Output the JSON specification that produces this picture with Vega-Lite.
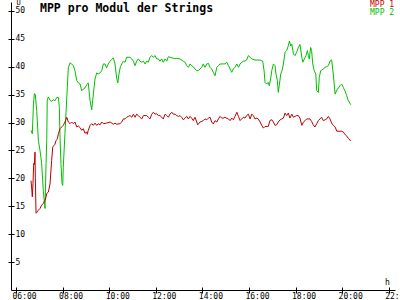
{
"$schema": "https://vega.github.io/schema/vega-lite/v6.json",
"width": 384, "height": 288,
"autosize": "none",
"padding": {"left": 11, "top": 2, "right": 5, "bottom": 10},
"background": "white",
"config": {"view": {"stroke": null}, "font": "DejaVu Sans Mono"},
"title": {"text": "MPP pro Modul der Strings", "anchor": "start", "frame": "group", "offset": -16, "dx": 29, "font": "DejaVu Sans Mono", "fontSize": 11.5, "fontWeight": "bold", "color": "black"},
"data": {"values": [
{"t":6.644,"v":28.6,"s":"MPP 2"},{"t":6.70,"v":28.0,"s":"MPP 2"},{"t":6.75,"v":33.4,"s":"MPP 2"},{"t":6.79,"v":35.2,"s":"MPP 2"},{"t":6.83,"v":35.0,"s":"MPP 2"},{"t":6.89,"v":32.0,"s":"MPP 2"},{"t":6.96,"v":26.8,"s":"MPP 2"},{"t":7.03,"v":25.0,"s":"MPP 2"},{"t":7.10,"v":22.7,"s":"MPP 2"},{"t":7.17,"v":17.9,"s":"MPP 2"},{"t":7.245,"v":14.6,"s":"MPP 2"},{"t":7.29,"v":22.7,"s":"MPP 2"},{"t":7.32,"v":26.8,"s":"MPP 2"},{"t":7.34,"v":34.0,"s":"MPP 2"},{"t":7.39,"v":34.6,"s":"MPP 2"},{"t":7.46,"v":34.0,"s":"MPP 2"},{"t":7.53,"v":33.8,"s":"MPP 2"},{"t":7.60,"v":34.1,"s":"MPP 2"},{"t":7.67,"v":33.9,"s":"MPP 2"},{"t":7.75,"v":34.5,"s":"MPP 2"},{"t":7.82,"v":34.5,"s":"MPP 2"},{"t":7.86,"v":32.7,"s":"MPP 2"},{"t":7.89,"v":27.3,"s":"MPP 2"},{"t":7.93,"v":22.7,"s":"MPP 2"},{"t":7.975,"v":19.1,"s":"MPP 2"},{"t":8.005,"v":18.75,"s":"MPP 2"},{"t":8.03,"v":22.0,"s":"MPP 2"},{"t":8.10,"v":28.0,"s":"MPP 2"},{"t":8.18,"v":34.5,"s":"MPP 2"},{"t":8.245,"v":39.8,"s":"MPP 2"},{"t":8.32,"v":40.7,"s":"MPP 2"},{"t":8.39,"v":40.5,"s":"MPP 2"},{"t":8.46,"v":40.2,"s":"MPP 2"},{"t":8.53,"v":39.3,"s":"MPP 2"},{"t":8.61,"v":37.5,"s":"MPP 2"},{"t":8.675,"v":37.1,"s":"MPP 2"},{"t":8.75,"v":36.9,"s":"MPP 2"},{"t":8.82,"v":35.7,"s":"MPP 2"},{"t":8.89,"v":36.0,"s":"MPP 2"},{"t":8.96,"v":36.2,"s":"MPP 2"},{"t":9.04,"v":36.8,"s":"MPP 2"},{"t":9.10,"v":37.1,"s":"MPP 2"},{"t":9.18,"v":33.9,"s":"MPP 2"},{"t":9.25,"v":32.3,"s":"MPP 2"},{"t":9.29,"v":33.9,"s":"MPP 2"},{"t":9.35,"v":36.2,"s":"MPP 2"},{"t":9.39,"v":37.8,"s":"MPP 2"},{"t":9.465,"v":38.9,"s":"MPP 2"},{"t":9.53,"v":38.7,"s":"MPP 2"},{"t":9.61,"v":38.9,"s":"MPP 2"},{"t":9.68,"v":39.3,"s":"MPP 2"},{"t":9.75,"v":40.5,"s":"MPP 2"},{"t":9.82,"v":40.5,"s":"MPP 2"},{"t":9.89,"v":39.8,"s":"MPP 2"},{"t":9.96,"v":40.5,"s":"MPP 2"},{"t":10.04,"v":41.0,"s":"MPP 2"},{"t":10.11,"v":41.3,"s":"MPP 2"},{"t":10.18,"v":41.6,"s":"MPP 2"},{"t":10.25,"v":40.5,"s":"MPP 2"},{"t":10.32,"v":38.0,"s":"MPP 2"},{"t":10.37,"v":37.1,"s":"MPP 2"},{"t":10.42,"v":38.7,"s":"MPP 2"},{"t":10.48,"v":40.0,"s":"MPP 2"},{"t":10.54,"v":40.5,"s":"MPP 2"},{"t":10.61,"v":41.0,"s":"MPP 2"},{"t":10.68,"v":40.8,"s":"MPP 2"},{"t":10.75,"v":41.7,"s":"MPP 2"},{"t":10.895,"v":41.7,"s":"MPP 2"},{"t":10.97,"v":41.4,"s":"MPP 2"},{"t":11.04,"v":41.0,"s":"MPP 2"},{"t":11.11,"v":40.2,"s":"MPP 2"},{"t":11.18,"v":41.0,"s":"MPP 2"},{"t":11.25,"v":41.4,"s":"MPP 2"},{"t":11.32,"v":41.0,"s":"MPP 2"},{"t":11.40,"v":40.8,"s":"MPP 2"},{"t":11.47,"v":41.0,"s":"MPP 2"},{"t":11.54,"v":40.5,"s":"MPP 2"},{"t":11.61,"v":41.0,"s":"MPP 2"},{"t":11.68,"v":40.8,"s":"MPP 2"},{"t":11.75,"v":41.7,"s":"MPP 2"},{"t":11.83,"v":42.0,"s":"MPP 2"},{"t":11.895,"v":41.7,"s":"MPP 2"},{"t":11.97,"v":42.0,"s":"MPP 2"},{"t":12.04,"v":41.4,"s":"MPP 2"},{"t":12.11,"v":41.4,"s":"MPP 2"},{"t":12.18,"v":41.0,"s":"MPP 2"},{"t":12.255,"v":41.4,"s":"MPP 2"},{"t":12.32,"v":40.8,"s":"MPP 2"},{"t":12.40,"v":41.4,"s":"MPP 2"},{"t":12.47,"v":41.0,"s":"MPP 2"},{"t":12.54,"v":41.8,"s":"MPP 2"},{"t":12.61,"v":41.7,"s":"MPP 2"},{"t":12.75,"v":41.5,"s":"MPP 2"},{"t":12.90,"v":41.5,"s":"MPP 2"},{"t":13.04,"v":41.4,"s":"MPP 2"},{"t":13.18,"v":41.0,"s":"MPP 2"},{"t":13.26,"v":40.8,"s":"MPP 2"},{"t":13.33,"v":40.2,"s":"MPP 2"},{"t":13.40,"v":39.9,"s":"MPP 2"},{"t":13.47,"v":40.5,"s":"MPP 2"},{"t":13.54,"v":40.2,"s":"MPP 2"},{"t":13.61,"v":40.0,"s":"MPP 2"},{"t":13.685,"v":39.6,"s":"MPP 2"},{"t":13.76,"v":39.3,"s":"MPP 2"},{"t":13.83,"v":39.3,"s":"MPP 2"},{"t":13.90,"v":39.6,"s":"MPP 2"},{"t":13.97,"v":39.9,"s":"MPP 2"},{"t":14.04,"v":40.5,"s":"MPP 2"},{"t":14.11,"v":39.9,"s":"MPP 2"},{"t":14.19,"v":40.5,"s":"MPP 2"},{"t":14.26,"v":40.6,"s":"MPP 2"},{"t":14.33,"v":39.9,"s":"MPP 2"},{"t":14.40,"v":39.6,"s":"MPP 2"},{"t":14.47,"v":39.0,"s":"MPP 2"},{"t":14.545,"v":38.4,"s":"MPP 2"},{"t":14.62,"v":39.9,"s":"MPP 2"},{"t":14.69,"v":40.2,"s":"MPP 2"},{"t":14.76,"v":40.5,"s":"MPP 2"},{"t":14.90,"v":40.5,"s":"MPP 2"},{"t":14.97,"v":40.5,"s":"MPP 2"},{"t":15.05,"v":40.8,"s":"MPP 2"},{"t":15.12,"v":40.2,"s":"MPP 2"},{"t":15.19,"v":39.6,"s":"MPP 2"},{"t":15.26,"v":39.0,"s":"MPP 2"},{"t":15.33,"v":39.6,"s":"MPP 2"},{"t":15.40,"v":39.9,"s":"MPP 2"},{"t":15.48,"v":40.5,"s":"MPP 2"},{"t":15.55,"v":39.9,"s":"MPP 2"},{"t":15.62,"v":40.5,"s":"MPP 2"},{"t":15.69,"v":40.8,"s":"MPP 2"},{"t":15.76,"v":41.0,"s":"MPP 2"},{"t":15.83,"v":41.0,"s":"MPP 2"},{"t":15.90,"v":41.2,"s":"MPP 2"},{"t":15.975,"v":42.0,"s":"MPP 2"},{"t":16.05,"v":41.7,"s":"MPP 2"},{"t":16.12,"v":41.4,"s":"MPP 2"},{"t":16.26,"v":41.2,"s":"MPP 2"},{"t":16.48,"v":41.2,"s":"MPP 2"},{"t":16.59,"v":41.0,"s":"MPP 2"},{"t":16.65,"v":39.3,"s":"MPP 2"},{"t":16.69,"v":37.2,"s":"MPP 2"},{"t":16.76,"v":36.9,"s":"MPP 2"},{"t":16.83,"v":37.2,"s":"MPP 2"},{"t":16.875,"v":36.6,"s":"MPP 2"},{"t":16.94,"v":38.1,"s":"MPP 2"},{"t":16.98,"v":39.3,"s":"MPP 2"},{"t":17.05,"v":40.5,"s":"MPP 2"},{"t":17.12,"v":40.2,"s":"MPP 2"},{"t":17.16,"v":38.7,"s":"MPP 2"},{"t":17.22,"v":37.5,"s":"MPP 2"},{"t":17.26,"v":35.4,"s":"MPP 2"},{"t":17.30,"v":36.6,"s":"MPP 2"},{"t":17.365,"v":38.7,"s":"MPP 2"},{"t":17.42,"v":39.3,"s":"MPP 2"},{"t":17.48,"v":40.5,"s":"MPP 2"},{"t":17.52,"v":41.7,"s":"MPP 2"},{"t":17.55,"v":42.6,"s":"MPP 2"},{"t":17.62,"v":42.9,"s":"MPP 2"},{"t":17.69,"v":43.75,"s":"MPP 2"},{"t":17.735,"v":44.6,"s":"MPP 2"},{"t":17.795,"v":43.75,"s":"MPP 2"},{"t":17.84,"v":44.05,"s":"MPP 2"},{"t":17.91,"v":42.3,"s":"MPP 2"},{"t":17.98,"v":42.0,"s":"MPP 2"},{"t":18.05,"v":42.6,"s":"MPP 2"},{"t":18.12,"v":43.45,"s":"MPP 2"},{"t":18.19,"v":44.0,"s":"MPP 2"},{"t":18.27,"v":41.7,"s":"MPP 2"},{"t":18.31,"v":40.8,"s":"MPP 2"},{"t":18.38,"v":41.4,"s":"MPP 2"},{"t":18.45,"v":42.0,"s":"MPP 2"},{"t":18.51,"v":42.9,"s":"MPP 2"},{"t":18.55,"v":42.0,"s":"MPP 2"},{"t":18.59,"v":41.4,"s":"MPP 2"},{"t":18.65,"v":43.45,"s":"MPP 2"},{"t":18.69,"v":42.9,"s":"MPP 2"},{"t":18.74,"v":40.5,"s":"MPP 2"},{"t":18.80,"v":39.3,"s":"MPP 2"},{"t":18.87,"v":38.7,"s":"MPP 2"},{"t":18.91,"v":35.7,"s":"MPP 2"},{"t":18.98,"v":35.4,"s":"MPP 2"},{"t":19.02,"v":38.1,"s":"MPP 2"},{"t":19.08,"v":39.3,"s":"MPP 2"},{"t":19.12,"v":39.4,"s":"MPP 2"},{"t":19.19,"v":39.6,"s":"MPP 2"},{"t":19.27,"v":39.9,"s":"MPP 2"},{"t":19.34,"v":40.0,"s":"MPP 2"},{"t":19.41,"v":40.2,"s":"MPP 2"},{"t":19.48,"v":41.0,"s":"MPP 2"},{"t":19.55,"v":41.2,"s":"MPP 2"},{"t":19.62,"v":38.7,"s":"MPP 2"},{"t":19.70,"v":35.1,"s":"MPP 2"},{"t":19.77,"v":35.8,"s":"MPP 2"},{"t":19.84,"v":36.2,"s":"MPP 2"},{"t":19.91,"v":36.6,"s":"MPP 2"},{"t":19.98,"v":36.9,"s":"MPP 2"},{"t":20.05,"v":36.3,"s":"MPP 2"},{"t":20.12,"v":35.7,"s":"MPP 2"},{"t":20.19,"v":34.9,"s":"MPP 2"},{"t":20.26,"v":34.0,"s":"MPP 2"},{"t":20.37,"v":33.2,"s":"MPP 2"},
{"t":6.644,"v":19.6,"s":"MPP 1"},{"t":6.67,"v":18.45,"s":"MPP 1"},{"t":6.70,"v":16.7,"s":"MPP 1"},{"t":6.73,"v":19.1,"s":"MPP 1"},{"t":6.76,"v":22.7,"s":"MPP 1"},{"t":6.79,"v":22.5,"s":"MPP 1"},{"t":6.815,"v":24.7,"s":"MPP 1"},{"t":6.83,"v":20.2,"s":"MPP 1"},{"t":6.86,"v":13.75,"s":"MPP 1"},{"t":6.89,"v":13.9,"s":"MPP 1"},{"t":6.96,"v":14.3,"s":"MPP 1"},{"t":7.03,"v":14.6,"s":"MPP 1"},{"t":7.10,"v":15.2,"s":"MPP 1"},{"t":7.17,"v":15.5,"s":"MPP 1"},{"t":7.245,"v":16.1,"s":"MPP 1"},{"t":7.29,"v":16.7,"s":"MPP 1"},{"t":7.32,"v":17.3,"s":"MPP 1"},{"t":7.39,"v":17.55,"s":"MPP 1"},{"t":7.46,"v":19.0,"s":"MPP 1"},{"t":7.53,"v":23.2,"s":"MPP 1"},{"t":7.575,"v":25.6,"s":"MPP 1"},{"t":7.63,"v":25.9,"s":"MPP 1"},{"t":7.67,"v":26.1,"s":"MPP 1"},{"t":7.72,"v":26.8,"s":"MPP 1"},{"t":7.77,"v":27.0,"s":"MPP 1"},{"t":7.82,"v":28.0,"s":"MPP 1"},{"t":7.89,"v":28.9,"s":"MPP 1"},{"t":7.96,"v":29.2,"s":"MPP 1"},{"t":8.03,"v":29.5,"s":"MPP 1"},{"t":8.10,"v":30.1,"s":"MPP 1"},{"t":8.18,"v":30.95,"s":"MPP 1"},{"t":8.245,"v":30.1,"s":"MPP 1"},{"t":8.32,"v":29.8,"s":"MPP 1"},{"t":8.39,"v":30.1,"s":"MPP 1"},{"t":8.46,"v":29.8,"s":"MPP 1"},{"t":8.53,"v":30.1,"s":"MPP 1"},{"t":8.61,"v":29.2,"s":"MPP 1"},{"t":8.675,"v":29.4,"s":"MPP 1"},{"t":8.75,"v":29.1,"s":"MPP 1"},{"t":8.82,"v":28.6,"s":"MPP 1"},{"t":8.89,"v":28.9,"s":"MPP 1"},{"t":8.96,"v":28.1,"s":"MPP 1"},{"t":9.04,"v":28.3,"s":"MPP 1"},{"t":9.06,"v":27.9,"s":"MPP 1"},{"t":9.10,"v":28.6,"s":"MPP 1"},{"t":9.18,"v":29.5,"s":"MPP 1"},{"t":9.25,"v":29.8,"s":"MPP 1"},{"t":9.32,"v":29.5,"s":"MPP 1"},{"t":9.39,"v":29.9,"s":"MPP 1"},{"t":9.465,"v":29.5,"s":"MPP 1"},{"t":9.53,"v":29.8,"s":"MPP 1"},{"t":9.61,"v":29.6,"s":"MPP 1"},{"t":9.68,"v":30.1,"s":"MPP 1"},{"t":9.75,"v":29.8,"s":"MPP 1"},{"t":9.89,"v":29.9,"s":"MPP 1"},{"t":10.04,"v":30.1,"s":"MPP 1"},{"t":10.18,"v":29.7,"s":"MPP 1"},{"t":10.25,"v":29.9,"s":"MPP 1"},{"t":10.32,"v":29.7,"s":"MPP 1"},{"t":10.465,"v":29.8,"s":"MPP 1"},{"t":10.54,"v":30.1,"s":"MPP 1"},{"t":10.61,"v":30.65,"s":"MPP 1"},{"t":10.68,"v":30.65,"s":"MPP 1"},{"t":10.75,"v":30.95,"s":"MPP 1"},{"t":10.82,"v":31.1,"s":"MPP 1"},{"t":10.895,"v":31.25,"s":"MPP 1"},{"t":10.97,"v":30.95,"s":"MPP 1"},{"t":11.04,"v":31.5,"s":"MPP 1"},{"t":11.11,"v":30.95,"s":"MPP 1"},{"t":11.18,"v":31.5,"s":"MPP 1"},{"t":11.25,"v":31.25,"s":"MPP 1"},{"t":11.32,"v":30.95,"s":"MPP 1"},{"t":11.40,"v":30.65,"s":"MPP 1"},{"t":11.47,"v":31.25,"s":"MPP 1"},{"t":11.61,"v":31.25,"s":"MPP 1"},{"t":11.68,"v":30.95,"s":"MPP 1"},{"t":11.75,"v":30.65,"s":"MPP 1"},{"t":11.83,"v":31.5,"s":"MPP 1"},{"t":11.895,"v":31.85,"s":"MPP 1"},{"t":11.97,"v":31.5,"s":"MPP 1"},{"t":12.04,"v":31.6,"s":"MPP 1"},{"t":12.11,"v":31.25,"s":"MPP 1"},{"t":12.18,"v":31.25,"s":"MPP 1"},{"t":12.255,"v":30.95,"s":"MPP 1"},{"t":12.32,"v":30.65,"s":"MPP 1"},{"t":12.40,"v":31.5,"s":"MPP 1"},{"t":12.47,"v":31.25,"s":"MPP 1"},{"t":12.54,"v":30.95,"s":"MPP 1"},{"t":12.61,"v":31.5,"s":"MPP 1"},{"t":12.69,"v":31.85,"s":"MPP 1"},{"t":12.75,"v":31.5,"s":"MPP 1"},{"t":12.83,"v":31.5,"s":"MPP 1"},{"t":12.90,"v":31.25,"s":"MPP 1"},{"t":12.97,"v":31.1,"s":"MPP 1"},{"t":13.04,"v":31.25,"s":"MPP 1"},{"t":13.11,"v":30.95,"s":"MPP 1"},{"t":13.18,"v":30.5,"s":"MPP 1"},{"t":13.26,"v":30.8,"s":"MPP 1"},{"t":13.33,"v":31.1,"s":"MPP 1"},{"t":13.40,"v":30.65,"s":"MPP 1"},{"t":13.47,"v":31.1,"s":"MPP 1"},{"t":13.54,"v":30.8,"s":"MPP 1"},{"t":13.61,"v":30.35,"s":"MPP 1"},{"t":13.685,"v":30.95,"s":"MPP 1"},{"t":13.76,"v":30.1,"s":"MPP 1"},{"t":13.80,"v":29.6,"s":"MPP 1"},{"t":13.90,"v":30.1,"s":"MPP 1"},{"t":13.97,"v":30.2,"s":"MPP 1"},{"t":14.04,"v":30.35,"s":"MPP 1"},{"t":14.11,"v":30.65,"s":"MPP 1"},{"t":14.19,"v":30.5,"s":"MPP 1"},{"t":14.26,"v":30.8,"s":"MPP 1"},{"t":14.33,"v":30.95,"s":"MPP 1"},{"t":14.40,"v":30.1,"s":"MPP 1"},{"t":14.47,"v":29.75,"s":"MPP 1"},{"t":14.545,"v":30.35,"s":"MPP 1"},{"t":14.62,"v":30.1,"s":"MPP 1"},{"t":14.69,"v":30.65,"s":"MPP 1"},{"t":14.76,"v":31.1,"s":"MPP 1"},{"t":14.83,"v":30.8,"s":"MPP 1"},{"t":14.90,"v":30.8,"s":"MPP 1"},{"t":14.97,"v":30.95,"s":"MPP 1"},{"t":15.05,"v":30.75,"s":"MPP 1"},{"t":15.12,"v":30.65,"s":"MPP 1"},{"t":15.19,"v":30.35,"s":"MPP 1"},{"t":15.26,"v":30.8,"s":"MPP 1"},{"t":15.33,"v":30.5,"s":"MPP 1"},{"t":15.40,"v":31.1,"s":"MPP 1"},{"t":15.48,"v":31.85,"s":"MPP 1"},{"t":15.55,"v":31.1,"s":"MPP 1"},{"t":15.62,"v":30.35,"s":"MPP 1"},{"t":15.69,"v":30.65,"s":"MPP 1"},{"t":15.76,"v":30.95,"s":"MPP 1"},{"t":15.83,"v":30.8,"s":"MPP 1"},{"t":15.90,"v":31.25,"s":"MPP 1"},{"t":15.975,"v":31.5,"s":"MPP 1"},{"t":16.05,"v":30.65,"s":"MPP 1"},{"t":16.12,"v":31.5,"s":"MPP 1"},{"t":16.19,"v":31.25,"s":"MPP 1"},{"t":16.26,"v":30.65,"s":"MPP 1"},{"t":16.34,"v":30.8,"s":"MPP 1"},{"t":16.40,"v":30.65,"s":"MPP 1"},{"t":16.48,"v":30.1,"s":"MPP 1"},{"t":16.55,"v":29.5,"s":"MPP 1"},{"t":16.62,"v":29.0,"s":"MPP 1"},{"t":16.69,"v":29.3,"s":"MPP 1"},{"t":16.83,"v":29.3,"s":"MPP 1"},{"t":16.90,"v":30.35,"s":"MPP 1"},{"t":16.98,"v":30.5,"s":"MPP 1"},{"t":17.05,"v":30.1,"s":"MPP 1"},{"t":17.12,"v":29.5,"s":"MPP 1"},{"t":17.19,"v":29.6,"s":"MPP 1"},{"t":17.26,"v":30.1,"s":"MPP 1"},{"t":17.34,"v":30.5,"s":"MPP 1"},{"t":17.41,"v":30.65,"s":"MPP 1"},{"t":17.48,"v":30.8,"s":"MPP 1"},{"t":17.55,"v":31.7,"s":"MPP 1"},{"t":17.62,"v":31.25,"s":"MPP 1"},{"t":17.69,"v":31.7,"s":"MPP 1"},{"t":17.76,"v":30.8,"s":"MPP 1"},{"t":17.84,"v":31.5,"s":"MPP 1"},{"t":17.91,"v":30.95,"s":"MPP 1"},{"t":17.98,"v":31.1,"s":"MPP 1"},{"t":18.05,"v":31.25,"s":"MPP 1"},{"t":18.12,"v":31.25,"s":"MPP 1"},{"t":18.19,"v":30.8,"s":"MPP 1"},{"t":18.27,"v":29.5,"s":"MPP 1"},{"t":18.34,"v":30.1,"s":"MPP 1"},{"t":18.41,"v":30.35,"s":"MPP 1"},{"t":18.48,"v":30.65,"s":"MPP 1"},{"t":18.62,"v":30.65,"s":"MPP 1"},{"t":18.69,"v":30.2,"s":"MPP 1"},{"t":18.76,"v":29.6,"s":"MPP 1"},{"t":18.83,"v":29.2,"s":"MPP 1"},{"t":18.91,"v":29.8,"s":"MPP 1"},{"t":18.98,"v":30.35,"s":"MPP 1"},{"t":19.05,"v":30.65,"s":"MPP 1"},{"t":19.12,"v":30.95,"s":"MPP 1"},{"t":19.19,"v":30.35,"s":"MPP 1"},{"t":19.27,"v":30.5,"s":"MPP 1"},{"t":19.34,"v":30.65,"s":"MPP 1"},{"t":19.41,"v":31.1,"s":"MPP 1"},{"t":19.48,"v":30.65,"s":"MPP 1"},{"t":19.55,"v":29.9,"s":"MPP 1"},{"t":19.62,"v":29.5,"s":"MPP 1"},{"t":19.70,"v":29.2,"s":"MPP 1"},{"t":19.77,"v":28.45,"s":"MPP 1"},{"t":19.98,"v":28.45,"s":"MPP 1"},{"t":20.05,"v":28.3,"s":"MPP 1"},{"t":20.12,"v":27.9,"s":"MPP 1"},{"t":20.19,"v":27.6,"s":"MPP 1"},{"t":20.26,"v":27.2,"s":"MPP 1"},{"t":20.37,"v":26.7,"s":"MPP 1"}
]},
"layer": [
{"mark": {"type": "line", "strokeWidth": 1},
 "encoding": {
  "x": {"field": "t", "type": "quantitative", "scale": {"domain": [5.785, 22.27], "nice": false, "zero": false},
        "axis": {"orient": "bottom", "values": [6,8,10,12,14,16,18,20,22], "labelExpr": "(datum.value<10?'0':'')+datum.value+':00'", "tickSize": 3, "tickColor": "black", "domainColor": "black", "labelFont": "DejaVu Sans Mono", "labelFontSize": 8, "labelColor": "black", "labelAlign": "left", "labelOffset": -4, "labelPadding": -1, "labelBaseline": "top", "labelFlush": false, "labelOverlap": false, "grid": false, "title": "h", "titleFont": "DejaVu Sans Mono", "titleFontSize": 8, "titleFontWeight": "normal", "titleColor": "black", "titleX": 376, "titleY": -6, "titleBaseline": "alphabetic", "titleAlign": "center"}},
  "y": {"field": "v", "type": "quantitative", "scale": {"domain": [0, 51.6], "nice": false},
        "axis": {"orient": "left", "values": [5,10,15,20,25,30,35,40,45,50], "tickSize": 3, "tickColor": "black", "domainColor": "black", "labelFont": "DejaVu Sans Mono", "labelFontSize": 8, "labelColor": "black", "labelAlign": "left", "labelPadding": -7, "labelBaseline": "middle", "labelFlush": false, "labelOverlap": false, "grid": false, "title": "U", "titleFont": "DejaVu Sans Mono", "titleFontSize": 7, "titleFontWeight": "normal", "titleColor": "black", "titleAngle": 0, "titleX": 5, "titleY": 2.5, "titleAlign": "left", "titleBaseline": "alphabetic"}},
  "color": {"field": "s", "type": "nominal", "scale": {"domain": ["MPP 1", "MPP 2"], "range": ["#c00000", "#00c000"]},
        "legend": {"title": null, "orient": "none", "legendX": 351, "legendY": -1, "symbolSize": 0, "symbolStrokeWidth": 0, "symbolOpacity": 0, "labelOffset": 0, "labelFont": "DejaVu Sans Mono", "labelFontSize": 8, "rowPadding": -1, "padding": 0, "encode": {"labels": {"update": {"fill": {"scale": "color", "field": "value"}}}}}}
 }},
{"mark": {"type": "line", "strokeOpacity": 0},
 "encoding": {
  "x": {"field": "t", "type": "quantitative", "axis": {"orient": "bottom", "values": [6,8,10,12,14,16,18,20,22], "tickSize": -3, "tickColor": "black", "labels": false, "domain": false, "grid": false, "title": null}},
  "y": {"field": "v", "type": "quantitative", "axis": {"orient": "left", "values": [5,10,15,20,25,30,35,40,45,50], "tickSize": -3, "tickColor": "black", "labels": false, "domain": false, "grid": false, "title": null}},
  "detail": {"field": "s", "type": "nominal"}
 }}
],
"resolve": {"axis": {"x": "independent", "y": "independent"}}
}
